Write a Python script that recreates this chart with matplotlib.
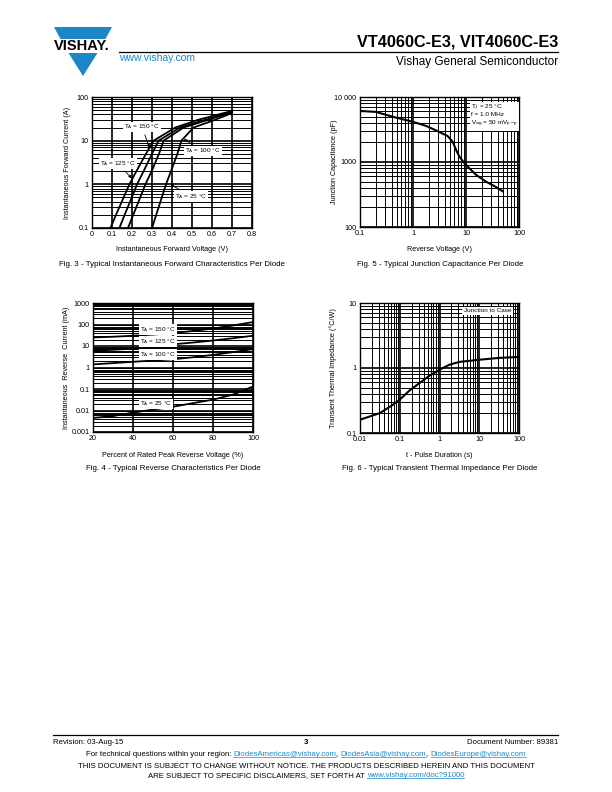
import matplotlib
matplotlib.use('Agg')
import matplotlib.pyplot as plt
from matplotlib.patches import Polygon

plt.rcParams['font.family'] = ['Liberation Sans', 'DejaVu Sans']
plt.rcParams['mathtext.fontset'] = 'custom'
plt.rcParams['mathtext.rm'] = 'Liberation Sans'
plt.rcParams['mathtext.it'] = 'Liberation Sans'

# Fig. 3 - forward characteristics (V, A)
f3_v150 = [0.092, 0.12, 0.158, 0.187, 0.222, 0.27, 0.308, 0.417, 0.53, 0.70]
f3_i150 = [0.1, 0.2, 0.5, 1, 2, 5, 10, 20, 30, 48]
f3_v125 = [0.137, 0.163, 0.199, 0.225, 0.258, 0.30, 0.333, 0.44, 0.565, 0.70]
f3_i125 = [0.1, 0.2, 0.5, 1, 2, 5, 10, 20, 30, 46]
f3_v100 = [0.18, 0.206, 0.241, 0.267, 0.298, 0.335, 0.358, 0.458, 0.58, 0.70]
f3_i100 = [0.1, 0.2, 0.5, 1, 2, 5, 10, 20, 30, 45]
f3_v25 = [0.30, 0.321, 0.349, 0.37, 0.395, 0.427, 0.447, 0.508, 0.615, 0.70]
f3_i25 = [0.1, 0.2, 0.5, 1, 2, 5, 10, 20, 30, 43]

# Fig. 5 - junction capacitance (V, pF)
f5_v = [0.1, 0.2, 0.42, 1.0, 1.8, 3.0, 4.5, 5.6, 6.5, 7.5, 9.3, 11.5, 15.4, 23.7, 36.5, 49]
f5_c = [6100, 5900, 4950, 4150, 3570, 2950, 2510, 2055, 1535, 1215, 960, 805, 637, 500, 413, 355]

# Fig. 4 - reverse characteristics (% VRRM, mA)
f4_pct = [20, 30, 40, 50, 60, 70, 80, 90, 100]
f4_i150 = [25, 27, 30, 34, 40, 50, 65, 90, 130]
f4_i125 = [6, 6.7, 7.5, 9.3, 12, 14.5, 18, 23, 30]
f4_i100 = [1.4, 1.6, 1.85, 2.1, 2.4, 3.0, 3.85, 5.2, 7.2]
f4_i25 = [0.0045, 0.0055, 0.008, 0.011, 0.015, 0.022, 0.032, 0.055, 0.13]

# Fig. 6 - transient thermal impedance (s, degC/W)
f6_t = [0.01, 0.032, 0.068, 0.1, 0.178, 0.316, 0.56, 1, 1.78, 3.16, 10, 31.6, 100]
f6_z = [0.16, 0.203, 0.273, 0.326, 0.453, 0.587, 0.762, 0.94, 1.125, 1.24, 1.34, 1.43, 1.48]

BLUE = '#1b87c9'
TS = 5.2   # tick / axis label size
LS = 4.6   # in-plot label size
W, H = 612, 792


def minor_log(lo, hi):
    return [m * 10.0 ** e for e in range(lo, hi) for m in range(2, 10)]


def ax_at(left, top, right, bottom):
    return fig.add_axes([left / W, 1 - bottom / H, (right - left) / W, (bottom - top) / H])


def style(ax):
    for s in ax.spines.values():
        s.set_linewidth(1.0)
        s.set_color('black')
    ax.tick_params(which='both', length=0, labelsize=TS, pad=2.5)
    ax.grid(which='major', color='black', lw=1.2)
    ax.grid(which='minor', color='black', lw=0.7)


def box(ax, x, y, s, **kw):
    ax.text(x, y, s, fontsize=LS, ha='center', va='center', zorder=5,
            bbox=dict(fc='white', ec='none', pad=0.6), **kw)


fig = plt.figure(figsize=(W / 100, H / 100), dpi=100)

page = fig.add_axes([0, 0, 1, 1])
page.set_xlim(0, W)
page.set_ylim(H, 0)
page.axis('off')

# ---------------- Fig. 3 ----------------
ax = ax_at(92, 97, 252, 228)
ax.set_yscale('log')
ax.set_xlim(0, 0.8)
ax.set_ylim(0.1, 100)
for v, i in [(f3_v150, f3_i150), (f3_v125, f3_i125), (f3_v100, f3_i100), (f3_v25, f3_i25)]:
    ax.plot(v, i, color='black', lw=1.3, zorder=3)
ax.set_xticks([0.1 * k for k in range(9)])
ax.set_xticklabels(['0', '0.1', '0.2', '0.3', '0.4', '0.5', '0.6', '0.7', '0.8'])
ax.set_yticks([0.1, 1, 10, 100])
ax.set_yticklabels(['0.1', '1', '10', '100'])
ax.set_yticks(minor_log(-1, 2), minor=True)
ax.yaxis.set_minor_formatter(plt.NullFormatter())
style(ax)
ax.set_xlabel('Instantaneous Forward Voltage (V)', fontsize=TS)
ax.set_ylabel('Instantaneous Forward Current (A)', fontsize=TS)
ax.xaxis.set_label_coords(0.5, -0.137)
ax.yaxis.set_label_coords(-0.131, 0.5)
arw = dict(arrowstyle='-|>', color='black', lw=0.6, mutation_scale=4)
for txt, xy, xt in [(r'$\mathregular{T_A}$ = 150 °C', (0.292, 6.0), (0.25, 20.6)),
                    (r'$\mathregular{T_A}$ = 125 °C', (0.208, 1.24), (0.13, 2.97)),
                    (r'$\mathregular{T_A}$ = 100 °C', (0.447, 11.7), (0.555, 5.8)),
                    (r'$\mathregular{T_A}$ = 25 °C', (0.38, 1.07), (0.497, 0.53))]:
    ax.annotate(txt, xy=xy, xytext=xt, fontsize=LS, ha='center', va='center', zorder=5,
                bbox=dict(fc='white', ec='none', pad=0.6), arrowprops=arw)

# ---------------- Fig. 5 ----------------
ax = ax_at(360, 97, 519, 227)
ax.set_xscale('log')
ax.set_yscale('log')
ax.set_xlim(0.1, 100)
ax.set_ylim(100, 10000)
ax.plot(f5_v, f5_c, color='black', lw=1.5, zorder=3)
ax.set_xticks([0.1, 1, 10, 100])
ax.set_xticklabels(['0.1', '1', '10', '100'])
ax.set_xticks(minor_log(-1, 2), minor=True)
ax.set_yticks([100, 1000, 10000])
ax.set_yticklabels(['100', '1000', '10 000'])
ax.set_yticks(minor_log(2, 4), minor=True)
ax.xaxis.set_minor_formatter(plt.NullFormatter())
ax.yaxis.set_minor_formatter(plt.NullFormatter())
style(ax)
ax.set_xlabel('Reverse Voltage (V)', fontsize=TS)
ax.set_ylabel('Junction Capacitance (pF)', fontsize=TS)
ax.xaxis.set_label_coords(0.5, -0.146)
ax.yaxis.set_label_coords(-0.139, 0.5)
ax.text(0.70, 0.96, r'$\mathregular{T_J}$ = 25 °C' + '\n' + 'f = 1.0 MHz' + '\n'
        + r'$\mathregular{V_{sig}}$ = 50 m$\mathregular{V_{p-p}}$',
        transform=ax.transAxes, fontsize=LS, ha='left', va='top', linespacing=1.3, zorder=5,
        bbox=dict(fc='white', ec='none', pad=1.0))

# ---------------- Fig. 4 ----------------
ax = ax_at(93, 303, 253, 432)
ax.set_yscale('log')
ax.set_xlim(20, 100)
ax.set_ylim(0.001, 1000)
for i in [f4_i150, f4_i125, f4_i100, f4_i25]:
    ax.plot(f4_pct, i, color='black', lw=1.3, zorder=3)
ax.set_xticks([20, 40, 60, 80, 100])
ax.set_yticks([0.001, 0.01, 0.1, 1, 10, 100, 1000])
ax.set_yticklabels(['0.001', '0.01', '0.1', '1', '10', '100', '1000'])
ax.set_yticks(minor_log(-3, 3), minor=True)
ax.yaxis.set_minor_formatter(plt.NullFormatter())
style(ax)
ax.set_xlabel('Percent of Rated Peak Reverse Voltage (%)', fontsize=TS)
ax.set_ylabel('Instantaneous  Reverse  Current (mA)', fontsize=TS)
ax.xaxis.set_label_coords(0.5, -0.155)
ax.yaxis.set_label_coords(-0.144, 0.5)
box(ax, 52.5, 59, r'$\mathregular{T_A}$ = 150 °C')
box(ax, 52.5, 15.8, r'$\mathregular{T_A}$ = 125 °C')
box(ax, 52.5, 4.1, r'$\mathregular{T_A}$ = 100 °C')
box(ax, 51.7, 0.0204, r'$\mathregular{T_A}$ = 25 °C')

# ---------------- Fig. 6 ----------------
ax = ax_at(360, 303, 519, 433)
ax.set_xscale('log')
ax.set_yscale('log')
ax.set_xlim(0.01, 100)
ax.set_ylim(0.1, 10)
ax.plot(f6_t, f6_z, color='black', lw=1.5, zorder=3)
ax.set_xticks([0.01, 0.1, 1, 10, 100])
ax.set_xticklabels(['0.01', '0.1', '1', '10', '100'])
ax.set_xticks(minor_log(-2, 2), minor=True)
ax.set_yticks([0.1, 1, 10])
ax.set_yticklabels(['0.1', '1', '10'])
ax.set_yticks(minor_log(-1, 1), minor=True)
ax.xaxis.set_minor_formatter(plt.NullFormatter())
ax.yaxis.set_minor_formatter(plt.NullFormatter())
style(ax)
ax.set_xlabel('t - Pulse Duration (s)', fontsize=TS)
ax.set_ylabel('Transient Thermal Impedance (°C/W)', fontsize=TS)
ax.xaxis.set_label_coords(0.5, -0.146)
ax.yaxis.set_label_coords(-0.145, 0.5)
ax.text(0.95, 0.94, 'Junction to Case', transform=ax.transAxes, fontsize=LS,
        ha='right', va='center', zorder=5, bbox=dict(fc='white', ec='none', pad=1.2))

# ---------------- captions ----------------
CS = 5.7
page.text(172, 264, 'Fig. 3 - Typical Instantaneous Forward Characteristics Per Diode',
          fontsize=CS, ha='center', va='center')
page.text(440, 264, 'Fig. 5 - Typical Junction Capacitance Per Diode',
          fontsize=CS, ha='center', va='center')
page.text(173, 468, 'Fig. 4 - Typical Reverse Characteristics Per Diode',
          fontsize=CS, ha='center', va='center')
page.text(440, 468, 'Fig. 6 - Typical Transient Thermal Impedance Per Diode',
          fontsize=CS, ha='center', va='center')

# ---------------- header ----------------
page.add_patch(Polygon([(54, 27), (112, 27), (105.5, 39), (60.5, 39)], closed=True,
                       fc=BLUE, ec='none'))
page.add_patch(Polygon([(68.5, 53), (97.5, 53), (83, 76)], closed=True, fc=BLUE, ec='none'))
page.text(82, 46.5, 'VISHAY.', fontsize=10.5, fontweight='bold', ha='center', va='center')
page.plot([119, 558], [52, 52], color='black', lw=0.9)
page.text(558, 42, 'VT4060C-E3, VIT4060C-E3', fontsize=11.7, fontweight='bold',
          ha='right', va='center')
page.text(558, 62, 'Vishay General Semiconductor', fontsize=8.5, ha='right', va='center')
page.text(119, 58, 'www.vishay.com', fontsize=7.5, ha='left', va='center', color=BLUE)

# ---------------- footer ----------------
FS = 5.6
page.plot([53, 558], [735, 735], color='black', lw=0.9)
page.text(53, 742, 'Revision: 03-Aug-15', fontsize=FS, ha='left', va='center')
page.text(306, 743, '3', fontsize=FS, fontweight='bold', ha='center', va='center')
page.text(558, 742, 'Document Number: 89381', fontsize=FS, ha='right', va='center')

fig.canvas.draw()
rend = fig.canvas.get_renderer()


def run_line(y, pieces):
    items = []
    for s, col, ul in pieces:
        t = page.text(0, y, s, fontsize=FS, ha='left', va='baseline', color=col)
        w = t.get_window_extent(renderer=rend).width
        items.append((t, w, col, ul))
    x = 306 - sum(it[1] for it in items) / 2
    for t, w, col, ul in items:
        t.set_x(x)
        if ul:
            page.plot([x, x + w], [y + 1.3, y + 1.3], color=col, lw=0.5)
        x += w


run_line(756, [('For technical questions within your region: ', 'black', False),
               ('DiodesAmericas@vishay.com', BLUE, True), (', ', 'black', False),
               ('DiodesAsia@vishay.com', BLUE, True), (', ', 'black', False),
               ('DiodesEurope@vishay.com', BLUE, True)])
run_line(768, [('THIS DOCUMENT IS SUBJECT TO CHANGE WITHOUT NOTICE. THE PRODUCTS DESCRIBED HEREIN AND THIS DOCUMENT',
                'black', False)])
run_line(777, [('ARE SUBJECT TO SPECIFIC DISCLAIMERS, SET FORTH AT ', 'black', False),
               ('www.vishay.com/doc?91000', BLUE, True)])

fig.savefig('out.png', dpi=100)
